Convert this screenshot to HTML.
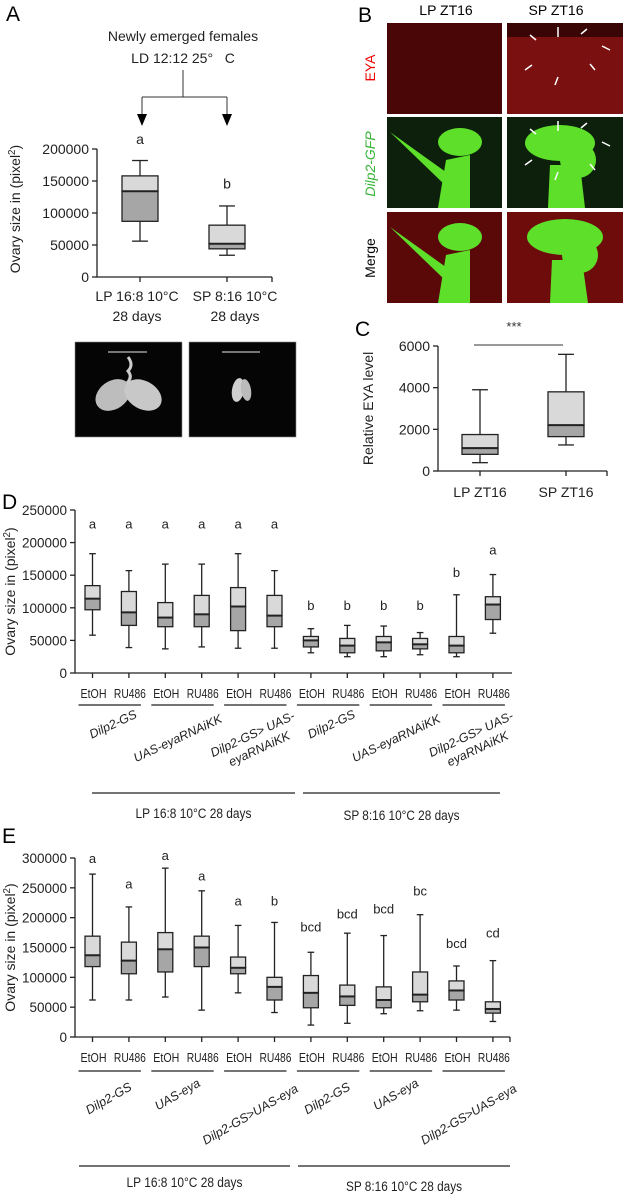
<!DOCTYPE html>
<html><head><meta charset="utf-8"><style>
html,body{margin:0;padding:0;background:#fff;width:625px;height:1195px;overflow:hidden}
svg{display:block;font-family:"Liberation Sans",sans-serif}
</style></head><body>
<svg id="fig" width="625" height="1195" viewBox="0 0 625 1195">
<g>
<text x="6" y="21" font-size="21">A</text>
<text x="183" y="41" font-size="14" text-anchor="middle" fill="#222">Newly emerged females</text>
<text x="183" y="63" font-size="14" text-anchor="middle" fill="#222">LD 12:12 25°&#160;&#160;&#160;C</text>
<path d="M183,70 V97 M142,97 H227 M142,97 V115 M227,97 V115" stroke="#333" stroke-width="1" fill="none"/>
<path d="M137,114 H147 L142,126 Z M222,114 H232 L227,126 Z" fill="#000"/>
</g>
<g id="chartA"></g>
<g>
<rect x="75" y="342" width="107" height="95" fill="#050505" stroke="#888" stroke-width="0.6"/>
<line x1="108" y1="352" x2="147" y2="352" stroke="#bbb" stroke-width="1.2"/>
<ellipse cx="113" cy="395" rx="19" ry="14" fill="#bdbdbd" transform="rotate(-35 113 395)"/>
<ellipse cx="143" cy="395" rx="20" ry="14" fill="#c8c8c8" transform="rotate(30 143 395)"/>
<path d="M128,357 q6,8 0,14 q5,6 -1,12" stroke="#ccc" stroke-width="3" fill="none"/>
<rect x="189" y="342" width="107" height="95" fill="#050505" stroke="#888" stroke-width="0.6"/>
<line x1="222" y1="352" x2="260" y2="352" stroke="#bbb" stroke-width="1.2"/>
<ellipse cx="238" cy="390" rx="6" ry="12" fill="#cfcfcf" transform="rotate(10 238 390)"/>
<ellipse cx="246" cy="390" rx="5" ry="11" fill="#bbb" transform="rotate(-10 246 390)"/>
</g>
<g>
<text x="358" y="22" font-size="21">B</text>
<text x="446" y="15" font-size="14" text-anchor="middle">LP ZT16</text>
<text x="556" y="15" font-size="14" text-anchor="middle">SP ZT16</text>
<text transform="translate(375,68) rotate(-90)" font-size="14" fill="#e00" text-anchor="middle">EYA</text>
<text transform="translate(375,164) rotate(-90)" font-size="14" fill="#3ab53a" font-style="italic" text-anchor="middle">Dilp2-GFP</text>
<text transform="translate(375,258) rotate(-90)" font-size="14" text-anchor="middle">Merge</text>
<rect x="387" y="23" width="115" height="91" fill="#4a0606"/>
<rect x="507" y="23" width="116" height="91" fill="#7a1010"/>
<rect x="507" y="23" width="116" height="14" fill="#3a0505"/>
<rect x="387" y="117" width="115" height="91" fill="#0c200c"/>
<rect x="507" y="117" width="116" height="91" fill="#0c200c"/>
<rect x="387" y="212" width="115" height="91" fill="#5a0808"/>
<rect x="507" y="212" width="116" height="91" fill="#6e0c0c"/>
<g fill="#5ee02a">
<ellipse cx="460" cy="142" rx="22" ry="14"/><path d="M438,208 L446,160 L470,155 L470,208Z"/><path d="M390,132 L450,175 L445,185Z"/>
<ellipse cx="460" cy="237" rx="22" ry="14"/><path d="M438,303 L446,255 L470,250 L470,303Z"/><path d="M390,227 L450,270 L445,280Z"/>
<ellipse cx="560" cy="143" rx="35" ry="18"/><ellipse cx="578" cy="160" rx="18" ry="18"/><path d="M548,208 L550,165 L580,165 L585,208Z"/>
<ellipse cx="565" cy="237" rx="38" ry="18"/><ellipse cx="580" cy="255" rx="18" ry="18"/><path d="M550,303 L552,260 L582,260 L588,303Z"/>
</g>
<g stroke="#fff" stroke-width="1.5" fill="none">
<path d="M558,27v10M587,29l-6,5M530,35l6,5M610,50l-8,-4M525,70l7,-5M555,85l3,-8M595,70l-5,-6"/>
<path d="M558,121v10M587,123l-6,5M530,129l6,5M610,146l-8,-4M525,165l7,-5M555,180l3,-8M595,170l-5,-6"/>
</g>
</g>
<text x="355" y="336" font-size="21">C</text>
<g id="chartC"></g>
<text x="2" y="509" font-size="21">D</text>
<g id="chartD"></g>
<text x="2" y="843" font-size="21">E</text>
<g id="chartE"></g>
</svg>
<script>
// Panel A data
const aCats = ["LP 16:8 10°C|28 days", "SP 8:16 10°C|28 days"];
const aLo = [56000, 34000];
const aQ1 = [87000, 44000];
const aMed = [134000, 52000];
const aQ3 = [158000, 81000];
const aHi = [182000, 111000];
const aLetters = ["a", "b"];
const aTicks = [0, 50000, 100000, 150000, 200000];
// Panel C data
const cCats = ["LP ZT16", "SP ZT16"];
const cLo = [400, 1250];
const cQ1 = [800, 1650];
const cMed = [1100, 2200];
const cQ3 = [1750, 3800];
const cHi = [3900, 5600];
const cTicks = [0, 2000, 4000, 6000];
// Panel D data
const dTreat = ["EtOH","RU486","EtOH","RU486","EtOH","RU486","EtOH","RU486","EtOH","RU486","EtOH","RU486"];
const dLo = [58000,39000,37000,40000,38000,38000,31000,25000,25000,28000,25000,61000];
const dQ1 = [97000,73000,71000,71000,65000,71000,40000,31000,34000,37000,31000,82000];
const dMed = [114000,93000,85000,90000,102000,88000,50000,42000,47000,44000,42000,105000];
const dQ3 = [134000,125000,108000,119000,131000,119000,56000,53000,56000,53000,56000,117000];
const dHi = [183000,157000,167000,167000,183000,157000,68000,73000,72000,62000,120000,151000];
const dLetters = ["a","a","a","a","a","a","b","b","b","b","b","a"];
const dLetterVals = [222000,222000,222000,222000,222000,222000,97000,97000,97000,97000,147000,182000];
const dTicks = [0,50000,100000,150000,200000,250000];
// Panel E data
const eLo = [62000,62000,67000,45000,74000,41000,20000,23000,39000,44000,45000,26000];
const eQ1 = [118000,106000,109000,118000,106000,62000,49000,53000,49000,59000,62000,40000];
const eMed = [137000,128000,147000,150000,116000,84000,74000,68000,62000,71000,78000,47000];
const eQ3 = [169000,159000,175000,169000,134000,100000,103000,87000,84000,109000,94000,59000];
const eHi = [273000,218000,283000,245000,187000,192000,142000,174000,170000,205000,119000,128000];
const eLetters = ["a","a","a","a","a","b","bcd","bcd","bcd","bc","bcd","cd"];
const eLetterVals = [292000,249000,297000,262000,220000,220000,177000,199000,207000,237000,149000,167000];
const eTicks = [0,50000,100000,150000,200000,250000,300000];

const NS = "http://www.w3.org/2000/svg";
function mk(parent, tag, attrs, txt) {
  const el = document.createElementNS(NS, tag);
  for (const k in attrs) el.setAttribute(k, attrs[k]);
  if (txt !== undefined) el.textContent = txt;
  parent.appendChild(el);
  return el;
}
function drawChart(g, o) {
  const y = v => o.y0 - (v / o.vmax) * (o.y0 - o.yTop);
  const x = i => o.x0 + i * o.step;
  const ax = mk(g, "path", {d: `M${o.ax},${y(o.vmax)} V${o.y0} H${o.axEnd}`, stroke: "#222", "stroke-width": 1.3, fill: "none"});
  
  
  o.ticks.forEach(t => {
    mk(g, "line", {x1: o.ax - 5, x2: o.ax, y1: y(t), y2: y(t), stroke: "#222", "stroke-width": 1.3});
    const tl = mk(g, "text", {x: o.ax - 8, y: y(t) + 5, "font-size": o.fs, "text-anchor": "end", fill: "#222"}, t);
    
    
  });
  const n = o.lo.length;
  for (let i = 0; i < n; i++) {
    mk(g, "line", {x1: x(i), x2: x(i), y1: o.y0, y2: o.y0 + 5, stroke: "#222", "stroke-width": 1.3});
  }
  if (o.extraTick) mk(g, "line", {x1: o.axEnd, x2: o.axEnd, y1: o.y0, y2: o.y0 + 5, stroke: "#222", "stroke-width": 1.3});
  const yl = mk(g, "text", {transform: `translate(${o.ylx},${(o.y0 + y(o.vmax)) / 2 + o.yloff}) rotate(-90)`, "font-size": o.yfs, "text-anchor": "middle", fill: "#222"});
  
  
  if (o.ytitleSup) {
    yl.appendChild(document.createTextNode("Ovary size in (pixel"));
    mk(yl, "tspan", {"font-size": o.yfs * 0.7, dy: -5}, "2");
    mk(yl, "tspan", {dy: 5}, ")");
  } else yl.textContent = o.ytitle;
  const w = o.bw;
  for (let i = 0; i < n; i++) {
    const bg = mk(g, "g", {});
    
    
    mk(bg, "line", {x1: x(i), x2: x(i), y1: y(o.hi[i]), y2: y(o.q3[i]), stroke: "#222", "stroke-width": 1.3});
    mk(bg, "line", {x1: x(i), x2: x(i), y1: y(o.q1[i]), y2: y(o.lo[i]), stroke: "#222", "stroke-width": 1.3});
    mk(bg, "line", {x1: x(i) - w * 0.22, x2: x(i) + w * 0.22, y1: y(o.hi[i]), y2: y(o.hi[i]), stroke: "#222", "stroke-width": 1.3});
    mk(bg, "line", {x1: x(i) - w * 0.22, x2: x(i) + w * 0.22, y1: y(o.lo[i]), y2: y(o.lo[i]), stroke: "#222", "stroke-width": 1.3});
    mk(bg, "rect", {x: x(i) - w / 2, y: y(o.q3[i]), width: w, height: y(o.med[i]) - y(o.q3[i]), fill: "#d9d9d9", stroke: "#222", "stroke-width": 1.3});
    mk(bg, "rect", {x: x(i) - w / 2, y: y(o.med[i]), width: w, height: y(o.q1[i]) - y(o.med[i]), fill: "#a6a6a6", stroke: "#222", "stroke-width": 1.3});
    mk(bg, "line", {x1: x(i) - w / 2, x2: x(i) + w / 2, y1: y(o.med[i]), y2: y(o.med[i]), stroke: "#222", "stroke-width": 2});
    if (o.letters) {
      const lt = mk(g, "text", {x: x(i), y: y(o.letterVals[i]), "font-size": o.lfs, "text-anchor": "middle", fill: "#222"}, o.letters[i]);
      
      
    }
  }
  return {x, y};
}
const A = drawChart(document.getElementById("chartA"), {x0: 140, step: 87, y0: 277, yTop: 149, vmax: 200000, ax: 97, axEnd: 272, extraTick: true,
  ticks: aTicks, fs: 14, lo: aLo, q1: aQ1, med: aMed, q3: aQ3, hi: aHi, bw: 36, ylx: 20, yloff: -4, yfs: 14, ytitleSup: true,
  letters: aLetters, letterVals: [208000, 138000], lfs: 14});
aCats.forEach((c, i) => {
  const parts = c.split("|");
  parts.forEach((p, j) => {
    const t = mk(document.getElementById("chartA"), "text", {x: A.x(i) + (i ? 8 : -3), y: 301 + j * 20, "font-size": 14, "text-anchor": "middle", fill: "#222"}, p);
    
    
  });
});
const gC = document.getElementById("chartC");
const C = drawChart(gC, {x0: 480, step: 86, y0: 471, yTop: 346, vmax: 6000, ax: 438, axEnd: 607, extraTick: true,
  ticks: cTicks, fs: 14, lo: cLo, q1: cQ1, med: cMed, q3: cQ3, hi: cHi, bw: 36, ylx: 373, yloff: 0, yfs: 14, ytitle: "Relative EYA level"});
cCats.forEach((c, i) => {
  const t = mk(gC, "text", {x: C.x(i), y: 497, "font-size": 14, "text-anchor": "middle", fill: "#222"}, c);
  
  
});
mk(gC, "line", {x1: C.x(0) - 6, x2: C.x(1) - 3, y1: 345, y2: 345, stroke: "#333", "stroke-width": 1});
const stars = mk(gC, "text", {x: 514, y: 331, "font-size": 13, "text-anchor": "middle", fill: "#333"}, "***");



function groupLabels(g, X, yTreat, yLine, groups, rot, bottom) {
  for (let i = 0; i < dTreat.length; i++) {
    const t = mk(g, "text", {x: X.x(i) + (i % 2 ? 1 : 1), y: yTreat, "font-size": 12.5, "text-anchor": "middle", fill: "#222",
      textLength: i % 2 ? 32 : 26, lengthAdjust: "spacingAndGlyphs"}, dTreat[i]);
    
    
  }
  groups.forEach((gr, k) => {
    const cx = (X.x(2 * k) + X.x(2 * k + 1)) / 2;
    mk(g, "line", {x1: X.x(2 * k) - 14, x2: X.x(2 * k + 1) + 12, y1: yLine, y2: yLine, stroke: "#222", "stroke-width": 1.3});
    const t = mk(g, "text", {transform: `translate(${cx + gr[1]},${gr[2]}) rotate(${rot})`, "font-size": 12.5, "font-style": "italic", "text-anchor": "middle", fill: "#222"});
    
    
    gr[0].split("|").forEach((p, j) => mk(t, "tspan", {x: 0, dy: j ? 16 : 0}, p));
  });
  bottom.forEach(b => {
    const t = mk(g, "text", {x: (b[0] + b[1]) / 2, y: b[3], "font-size": 13.5, "text-anchor": "middle", fill: "#222",
      textLength: 116, lengthAdjust: "spacingAndGlyphs"}, b[4]);
    mk(g, "line", {x1: b[0], x2: b[1], y1: b[2], y2: b[2], stroke: "#222", "stroke-width": 1.3});
    
    
  });
}
const gD = document.getElementById("chartD");
const D = drawChart(gD, {x0: 92.5, step: 36.4, y0: 673, yTop: 510, vmax: 250000, ax: 75, axEnd: 512, extraTick: false,
  ticks: dTicks, fs: 13.5, lo: dLo, q1: dQ1, med: dMed, q3: dQ3, hi: dHi, bw: 15, ylx: 15, yloff: 0, yfs: 14, ytitleSup: true,
  letters: dLetters, letterVals: dLetterVals, lfs: 13});
groupLabels(gD, D, 698, 705, [["Dilp2-GS", 4, 728], ["UAS-eyaRNAiKK", -4, 742], ["Dilp2-GS> UAS-|eyaRNAiKK", -2, 738],
  ["Dilp2-GS", 4, 728], ["UAS-eyaRNAiKK", -4, 742], ["Dilp2-GS> UAS-|eyaRNAiKK", -2, 738]], -25,
  [[92, 295, 793, 818, "LP 16:8 10°C 28 days"], [303, 500, 793, 820, "SP 8:16 10°C 28 days"]]);
const gE = document.getElementById("chartE");
const E = drawChart(gE, {x0: 92.5, step: 36.4, y0: 1037, yTop: 858, vmax: 300000, ax: 75, axEnd: 510, extraTick: true,
  ticks: eTicks, fs: 13.5, lo: eLo, q1: eQ1, med: eMed, q3: eQ3, hi: eHi, bw: 15, ylx: 15, yloff: 0, yfs: 14, ytitleSup: true,
  letters: eLetters, letterVals: eLetterVals, lfs: 13});
groupLabels(gE, E, 1062, 1071, [["Dilp2-GS", 0, 1102], ["UAS-eya", -4, 1098], ["Dilp2-GS>UAS-eya", -4, 1118],
  ["Dilp2-GS", 0, 1102], ["UAS-eya", -4, 1098], ["Dilp2-GS>UAS-eya", -4, 1118]], -30,
  [[79, 290, 1166, 1187, "LP 16:8 10°C 28 days"], [298, 510, 1166, 1191, "SP 8:16 10°C 28 days"]]);
</script>
</body></html>
